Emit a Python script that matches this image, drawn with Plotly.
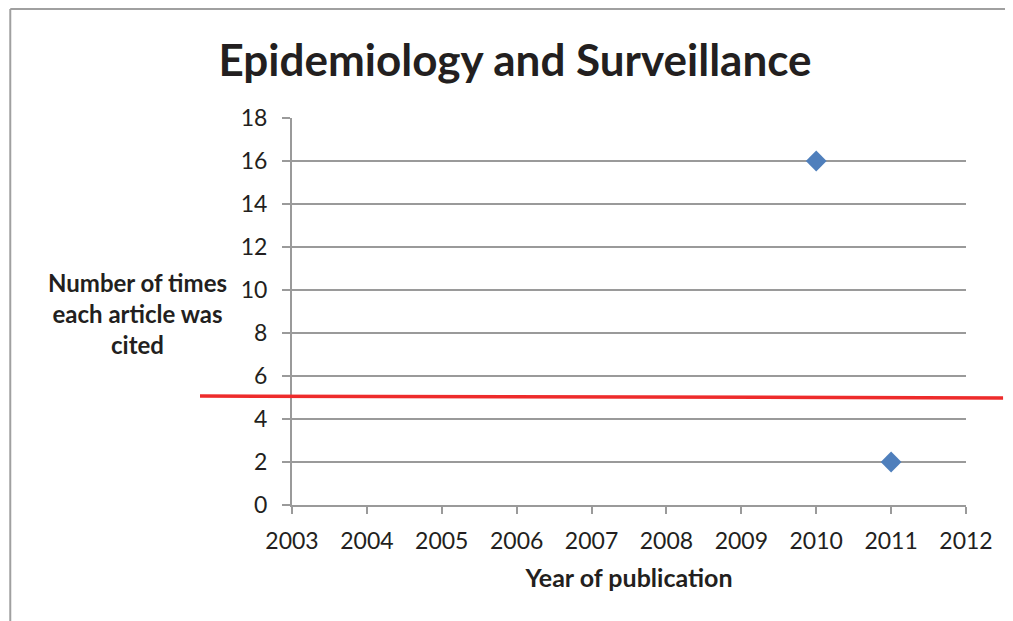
import plotly.graph_objects as go

# Data
years = [2010, 2011]
citations = [16, 2]
x_ticks = list(range(2003, 2013))
y_ticks = list(range(0, 19, 2))
threshold_left = 5.07
threshold_right = 4.98

Y_MAX = 18
X_MIN, X_MAX = 2003, 2012

GRID = "#9a9a9a"
FONT = "Lato"

fig = go.Figure()
fig.add_trace(go.Scatter(
    x=years, y=citations, mode="markers",
    marker=dict(symbol="diamond", size=16, color="#4f7fbc"),
    showlegend=False, cliponaxis=False,
))

fig.update_layout(
    width=1013, height=621,
    margin=dict(l=284, r=55, t=110, b=124),
    paper_bgcolor="white", plot_bgcolor="white",
    font=dict(family=FONT, size=23, color="#231f20"),
    title=dict(text="<b>Epidemiology and Surveillance</b>", x=0.5005, xanchor="center",
               y=0.915, yanchor="middle", font=dict(size=44, family=FONT, color="#231f20")),
    xaxis=dict(range=[X_MIN, X_MAX], tickvals=x_ticks, ticktext=[str(v) for v in x_ticks],
               showgrid=False, zeroline=False, showline=True, linecolor=GRID, linewidth=2,
               ticks="outside", ticklen=7, tickwidth=2, tickcolor=GRID, ticklabelstandoff=7,
               title=dict(text="<b>Year of publication</b>", standoff=17, font=dict(size=25))),
    yaxis=dict(range=[0, Y_MAX], tickvals=y_ticks, showgrid=True, gridcolor=GRID, gridwidth=2,
               zeroline=False, showline=True, linecolor=GRID, linewidth=2,
               ticks="outside", ticklen=8, tickwidth=2, tickcolor=GRID, ticklabelstandoff=10),
)

# Y axis title as horizontal annotation
fig.add_annotation(text="<b>Number of times<br>each article was<br>cited</b>",
                   xref="paper", yref="paper", x=-0.2285, y=0.496, xanchor="center", yanchor="middle",
                   showarrow=False, font=dict(size=24, family=FONT, color="#231f20"), align="center")

# Red threshold line extending beyond the plot area
fig.add_shape(type="line", xref="x domain", yref="y domain",
              x0=-0.1365, x1=1.055, y0=threshold_left / Y_MAX, y1=threshold_right / Y_MAX,
              line=dict(color="#ee2b2b", width=3.5))

# Outer frame: left and top edges (the rest lies beyond the picture)
fig.add_shape(type="line", xref="paper", yref="paper", x0=-0.418, x1=-0.418, y0=-0.5, y1=1.2817,
              line=dict(color="#a0a0a0", width=2), layer="below")
fig.add_shape(type="line", xref="paper", yref="paper", x0=-0.418, x1=1.5, y0=1.2817, y1=1.2817,
              line=dict(color="#a0a0a0", width=2), layer="below")

fig.write_html("out.html")
